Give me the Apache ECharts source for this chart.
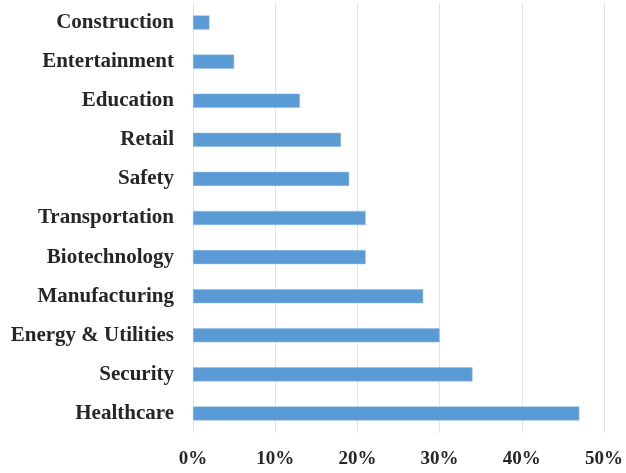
<!DOCTYPE html>
<html>
<head>
<meta charset="utf-8">
<script src="https://cdn.jsdelivr.net/npm/echarts@6/dist/echarts.min.js"></script>
<style>html,body{margin:0;padding:0;background:#fff}#c{width:626px;height:473px}</style>
</head>
<body>
<div id="c"></div>
<script>
const categories = ["Healthcare","Security","Energy & Utilities","Manufacturing","Biotechnology","Transportation","Safety","Retail","Education","Entertainment","Construction"];
const values = [47,34,30,28,21,21,19,18,13,5,2];
const xTicks = [0,10,20,30,40,50];

const chart = echarts.init(document.getElementById('c'), null, {renderer:'canvas'});
chart.setOption({
  animation:false,
  backgroundColor:'#ffffff',
  grid:{left:193, top:3, width:411, height:430, containLabel:false},
  xAxis:{
    type:'value', min:xTicks[0], max:xTicks[xTicks.length-1], interval:10,
    axisLine:{show:false}, axisTick:{show:false},
    splitLine:{show:true, lineStyle:{color:'#e3e3e3', width:1}},
    axisLabel:{formatter:v=>v+'%', margin:17, fontFamily:'Liberation Serif', fontWeight:'bold', fontSize:19, color:'#262626'}
  },
  yAxis:{
    type:'category', data:categories,
    axisLine:{show:false}, axisTick:{show:false},
    axisLabel:{margin:19, fontFamily:'Liberation Serif', fontWeight:'bold', fontSize:21, color:'#262626'}
  },
  series:[{type:'bar', data:values, barWidth:'36%', itemStyle:{color:'#5B9BD5', borderColor:'#8fbbe3', borderWidth:0.5}}]
});
</script>
</body>
</html>
